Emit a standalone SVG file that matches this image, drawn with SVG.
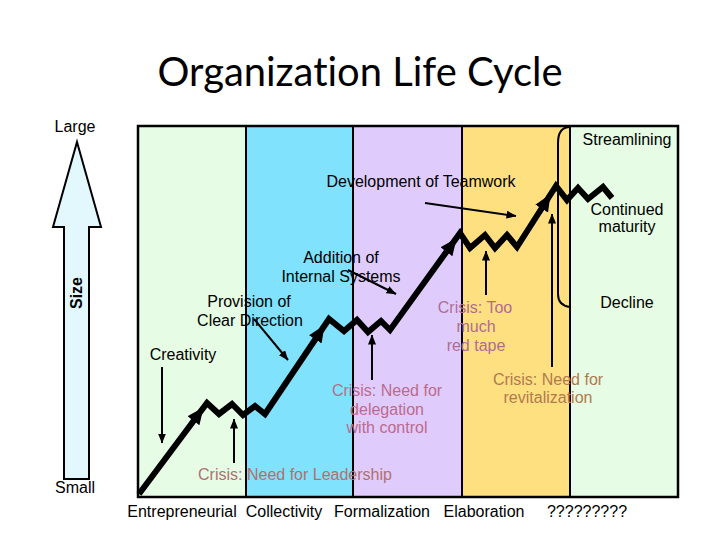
<svg xmlns="http://www.w3.org/2000/svg" width="720" height="540" viewBox="0 0 720 540">
<style>
text{font-family:"Liberation Sans",Arial,sans-serif;font-size:16px;fill:#000;text-anchor:middle}
.title{font-family:Lato,"Liberation Sans",sans-serif;font-size:40px;font-variant-ligatures:none}
.c1{fill:#B07070}.c2{fill:#BC6A8C}.c3{fill:#B06C90}.c4{fill:#B07A50}
.thin{stroke:#000;stroke-width:2;fill:none}
.thick{stroke:#000;stroke-width:6;fill:none;stroke-linejoin:miter;stroke-miterlimit:6}
</style>
<defs>
<marker id="ah" markerUnits="userSpaceOnUse" viewBox="0 0 10 8" markerWidth="10" markerHeight="8" refX="9.5" refY="4" orient="auto"><path d="M0,0 L10,4 L0,8 z" fill="#000"/></marker>
<marker id="big" markerUnits="userSpaceOnUse" viewBox="0 0 16 16" markerWidth="17" markerHeight="17" refX="15" refY="8" orient="auto"><path d="M0,1 L16,8 L0,15 z" fill="#000"/></marker>
</defs>
<rect width="720" height="540" fill="#fff"/>
<text class="title" x="360" y="86" textLength="405" lengthAdjust="spacingAndGlyphs">Organization Life Cycle</text>
<g id="bands">
<rect x="138" y="126" width="108" height="371" fill="#E6FCE4"/>
<rect x="246" y="126" width="107" height="371" fill="#80E2FC"/>
<rect x="353" y="126" width="109" height="371" fill="#E0CCFC"/>
<rect x="462" y="126" width="108" height="371" fill="#FFE080"/>
<rect x="570" y="126" width="108" height="371" fill="#E6FCE4"/>
<path d="M246,126 V497 M353,126 V497 M462,126 V497 M570,126 V497" stroke="#000" stroke-width="2"/>
<rect x="138" y="126" width="540" height="371" fill="none" stroke="#000" stroke-width="2.5"/>
<path d="M570,127 C562,127 558,133 558,143 L558,294 C558,301 562,306 570,307" fill="none" stroke="#000" stroke-width="2"/>
</g>
<g id="size-axis">
<polygon points="77,142 101,227 89,227 89,479 64,479 64,227 53,227" fill="#E2F8FC" stroke="#000" stroke-width="2"/>
<text x="0" y="0" transform="translate(82,293) rotate(-90)" style="font-weight:bold;font-size:16px">Size</text>
<text x="75" y="132">Large</text>
<text x="75" y="493">Small</text>
</g>
<g id="connectors">
<polyline class="thick" points="139,494 207,403 219,414 232,404 243,415 255,406 265,414 329,319 344,331 357,320 368,332 381,321 390,330 460,233 470,248 485,235 495,248 507,235 517,247 556,186 567,200 578,188 588,199 603,187 612,198"/>
<path d="M191,424 L203,408" stroke="#000" stroke-width="5" marker-end="url(#big)"/>
<path d="M313,343 L324,326" stroke="#000" stroke-width="5" marker-end="url(#big)"/>
<path d="M444,255 L456,239" stroke="#000" stroke-width="5" marker-end="url(#big)"/>
<path d="M539,213 L550,195" stroke="#000" stroke-width="5" marker-end="url(#big)"/>
<line class="thin" x1="162" y1="367" x2="162" y2="443" marker-end="url(#ah)"/>
<line class="thin" x1="234" y1="463" x2="234" y2="419" marker-end="url(#ah)"/>
<line class="thin" x1="254" y1="319" x2="288" y2="360" marker-end="url(#ah)"/>
<line class="thin" x1="348" y1="270" x2="396" y2="294" marker-end="url(#ah)"/>
<line class="thin" x1="425" y1="203" x2="516" y2="216" marker-end="url(#ah)"/>
<line class="thin" x1="372" y1="380" x2="372" y2="335" marker-end="url(#ah)"/>
<line class="thin" x1="486" y1="295" x2="486" y2="251" marker-end="url(#ah)"/>
<line class="thin" x1="552" y1="367" x2="552" y2="214" marker-end="url(#ah)"/>
</g>
<g id="labels">
<text x="627" y="145">Streamlining</text>
<text x="421" y="187">Development of Teamwork</text>
<text x="627" y="215">Continued</text>
<text x="627" y="232">maturity</text>
<text x="341" y="263">Addition of</text>
<text x="341" y="282">Internal Systems</text>
<text x="249" y="307">Provision of</text>
<text x="250" y="326">Clear Direction</text>
<text x="627" y="308">Decline</text>
<text class="c3" x="475" y="313">Crisis: Too</text>
<text class="c3" x="476" y="332">much</text>
<text class="c3" x="476" y="351">red tape</text>
<text x="183" y="360">Creativity</text>
<text class="c2" x="387" y="396">Crisis: Need for</text>
<text class="c2" x="387" y="415">delegation</text>
<text class="c2" x="387" y="433">with control</text>
<text class="c4" x="548" y="385">Crisis: Need for</text>
<text class="c4" x="548" y="403">revitalization</text>
<text class="c1" x="295" y="480">Crisis: Need for Leadership</text>
<text x="182" y="517">Entrepreneurial</text>
<text x="284" y="517">Collectivity</text>
<text x="382" y="517">Formalization</text>
<text x="484" y="517">Elaboration</text>
<text x="587" y="517">?????????</text>
</g>
</svg>
